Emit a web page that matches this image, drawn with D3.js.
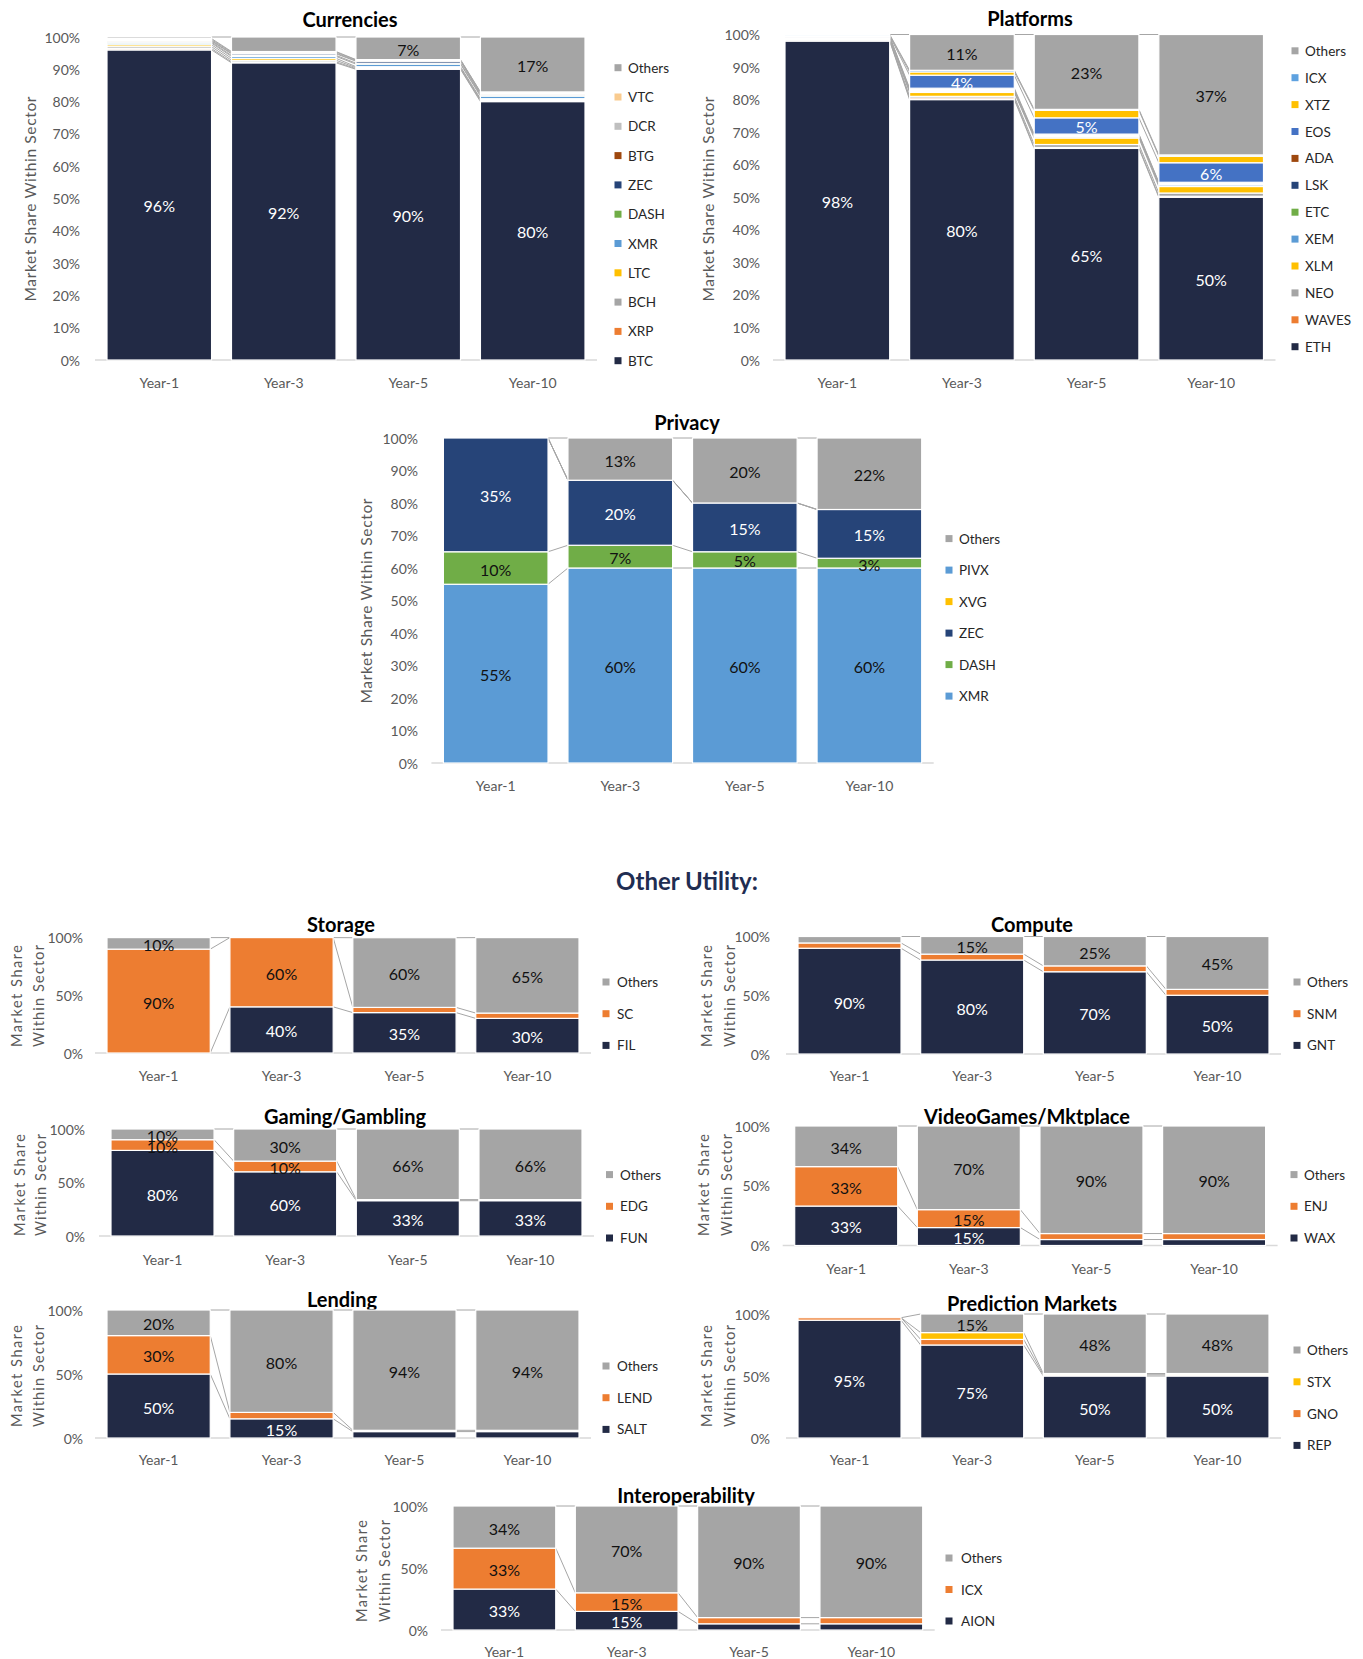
<!DOCTYPE html>
<html><head><meta charset="utf-8">
<script src="https://cdn.jsdelivr.net/npm/d3@7"></script>
<style>body{margin:0;background:#fff;} svg{display:block;font-family:Lato,"Open Sans",sans-serif;}</style>
</head><body>
<svg id="c" width="1363" height="1659"></svg>
<script>
const years = ["Year-1","Year-3","Year-5","Year-10"];

const currenciesSeries = ["BTC","XRP","BCH","LTC","XMR","DASH","ZEC","BTG","DCR","VTC","Others"];
const currenciesValues = [
  [96, 92, 90, 80],
  [0.4, 0.3, 0.2, 0.3],
  [0.6, 0.5, 0.3, 0.3],
  [0.6, 0.6, 0.3, 0.3],
  [0.5, 0.6, 0.8, 0.8],
  [0.3, 0.3, 0.3, 0.3],
  [0.3, 0.5, 0.6, 0.3],
  [0.2, 0.2, 0.2, 0.2],
  [0.3, 0.3, 0.2, 0.4],
  [0.3, 0.2, 0.1, 0.1],
  [0.5, 4.5, 7, 17]
];

const platformsSeries = ["ETH","WAVES","NEO","XLM","XEM","ETC","LSK","ADA","EOS","XTZ","ICX","Others"];
const platformsValues = [
  [98, 80, 65, 50],
  [0.1, 0.5, 0.3, 0.3],
  [0.4, 0.5, 0.9, 1],
  [0.3, 1.2, 2, 2],
  [0.2, 0.3, 0.4, 0.5],
  [0.2, 0.3, 0.3, 0.3],
  [0.1, 0.3, 0.3, 0.3],
  [0.1, 0.4, 0.2, 0.2],
  [0.2, 4, 5, 6],
  [0.2, 1, 2.3, 2],
  [0.2, 0.5, 0.3, 0.4],
  [0, 11, 23, 37]
];

const privacySeries = ["XMR","DASH","ZEC","XVG","PIVX","Others"];
const privacyValues = [
  [55, 60, 60, 60],
  [10, 7, 5, 3],
  [35, 20, 15, 15],
  [0, 0, 0, 0],
  [0, 0, 0, 0],
  [0, 13, 20, 22]
];

const storageSeries = ["FIL","SC","Others"];
const storageValues = [[0, 40, 35, 30], [90, 60, 4.5, 4.6], [10, 0, 60.4, 65.4]];

const computeSeries = ["GNT","SNM","Others"];
const computeValues = [[90, 80, 70, 50], [4.5, 5, 5, 5], [5.5, 15, 25, 45]];

const gamingSeries = ["FUN","EDG","Others"];
const gamingValues = [[80, 60, 33, 33], [10, 10, 1, 1], [10, 30, 66, 66]];

const videoSeries = ["WAX","ENJ","Others"];
const videoValues = [[33, 15, 5, 5], [33, 15, 5, 5], [34, 70, 90, 90]];

const lendingSeries = ["SALT","LEND","Others"];
const lendingValues = [[50, 15, 5, 5], [30, 5, 1, 1], [20, 80, 94, 94]];

const predictionSeries = ["REP","GNO","STX","Others"];
const predictionValues = [[95, 75, 50, 50], [2, 4.5, 1, 1], [0, 5.5, 1, 1], [0, 15, 48, 48]];

const interopSeries = ["AION","ICX","Others"];
const interopValues = [[33, 15, 5, 5], [33, 15, 5, 5], [34, 70, 90, 90]];

const bigTicks = [0,10,20,30,40,50,60,70,80,90,100];
const smallTicks = [0,50,100];

// colours
const NAVY = "#222a45", ORANGE = "#ed7d31", GRAY = "#a5a5a5", YELLOW = "#ffc000",
      LBLUE = "#5b9bd5", GREEN = "#70ad47", DBLUE = "#264478", BLUE = "#4472c4", BROWN = "#9e480e";
const currenciesColors = [NAVY, ORANGE, GRAY, YELLOW, LBLUE, GREEN, DBLUE, BROWN, "#bfbfbf", "#f9cb8f", GRAY];
const platformsColors = [NAVY, ORANGE, GRAY, YELLOW, LBLUE, GREEN, DBLUE, BROWN, BLUE, YELLOW, "#5ea2e0", GRAY];
const privacyColors = [LBLUE, GREEN, DBLUE, YELLOW, LBLUE, GRAY];
const threeColors = [NAVY, ORANGE, GRAY];
const predictionColors = [NAVY, ORANGE, YELLOW, GRAY];

const panels = [
  {title:"Currencies", series:currenciesSeries, values:currenciesValues, colors:currenciesColors, big:true,
   bx:[107,585], y:[37,360], tickX:80, tp:[350,19], yt:[30], ytc:199, xly:382,
   leg:{mx:618, tx:628, y0:67.7, dy:29.3}, minLabel:5},
  {title:"Platforms", series:platformsSeries, values:platformsValues, colors:platformsColors, big:true,
   bx:[785,1263.5], y:[34.5,360], tickX:760, tp:[1030,18], yt:[708], ytc:199, xly:382,
   leg:{mx:1295, tx:1305, y0:50.8, dy:26.9}, minLabel:4},
  {title:"Privacy", series:privacySeries, values:privacyValues, colors:privacyColors, big:true,
   bx:[443.4,921.7], y:[438,763], tickX:418, tp:[687,422], yt:[366], ytc:601, xly:785,
   leg:{mx:949, tx:959, y0:538.6, dy:31.5}, minLabel:3},
  {title:"Storage", series:storageSeries, values:storageValues, colors:threeColors,
   bx:[107,579], y:[937.6,1053], tickX:83, tp:[341,924], yt:[16,38.6], ytc:996, xly:1075,
   leg:{mx:606, tx:617, y0:982, dy:31.7}, minLabel:10},
  {title:"Compute", series:computeSeries, values:computeValues, colors:threeColors,
   bx:[798,1269], y:[936.5,1054], tickX:770, tp:[1032,924], yt:[706,729], ytc:996, xly:1075,
   leg:{mx:1297, tx:1307, y0:982, dy:31.7}, minLabel:10},
  {title:"Gaming/Gambling", series:gamingSeries, values:gamingValues, colors:threeColors,
   bx:[111,582], y:[1129,1236], tickX:85, tp:[345,1116], yt:[19,40], ytc:1185, xly:1259,
   leg:{mx:609.5, tx:620, y0:1174.6, dy:31.7}, minLabel:10},
  {title:"VideoGames/Mktplace", series:videoSeries, values:videoValues, colors:threeColors,
   bx:[794.7,1265.6], y:[1126,1245.5], tickX:770, tp:[1027,1116], yt:[703,726], ytc:1185, xly:1268,
   leg:{mx:1294, tx:1304, y0:1174.6, dy:31.7}, minLabel:10},
  {title:"Lending", series:lendingSeries, values:lendingValues, colors:threeColors,
   bx:[107,579], y:[1310,1438], tickX:83, tp:[342,1299], yt:[16,38.6], ytc:1376, xly:1459,
   leg:{mx:606, tx:617, y0:1366, dy:31.7}, minLabel:10},
  {title:"Prediction Markets", series:predictionSeries, values:predictionValues, colors:predictionColors,
   bx:[798,1269], y:[1314,1438], tickX:770, tp:[1032,1303], yt:[706,729], ytc:1376, xly:1459,
   leg:{mx:1297, tx:1307, y0:1350, dy:31.8}, minLabel:10},
  {title:"Interoperability", series:interopSeries, values:interopValues, colors:threeColors,
   bx:[453,922.7], y:[1506,1630], tickX:428, tp:[686,1495], yt:[361,384], ytc:1571, xly:1651,
   leg:{mx:949, tx:961, y0:1558, dy:31.5}, minLabel:10}
];

const svg = d3.select("#c");

function lum(c){
  const r = d3.rgb(c);
  const f = v => { v/=255; return v<=0.03928 ? v/12.92 : Math.pow((v+0.055)/1.055,2.4); };
  return 0.2126*f(r.r)+0.7152*f(r.g)+0.0722*f(r.b);
}

svg.append("text").attr("x",687).attr("y",880).attr("text-anchor","middle")
  .attr("dominant-baseline","central").attr("font-size",24).attr("font-weight",700)
  .attr("fill","#1f2d52").text("Other Utility:");

panels.forEach(p => {
  const g = svg.append("g");
  const rows = years.map((yr,i) => { const r = {year:yr}; p.series.forEach((s,k)=> r[s] = p.values[k][i]); return r; });
  const stack = d3.stack().keys(p.series)(rows);
  const x = d3.scaleBand().domain(years).range(p.bx).paddingInner(0.16).paddingOuter(0);
  const y = d3.scaleLinear().domain([0,100]).range([p.y[1], p.y[0]]);
  const bw = x.bandwidth();

  // title
  g.append("text").attr("x",p.tp[0]).attr("y",p.tp[1]).attr("text-anchor","middle")
    .attr("dominant-baseline","central").attr("font-size",p.big?20:20).attr("font-weight",700)
    .attr("fill","#000").text(p.title);

  // y axis ticks
  const ticks = p.big ? bigTicks : smallTicks;
  g.selectAll(".tk").data(ticks).enter().append("text")
    .attr("x",p.tickX).attr("y",d=>y(d)).attr("text-anchor","end").attr("dominant-baseline","central")
    .attr("font-size",14).attr("fill","#595959").text(d=>d+"%");

  // y title
  if (p.yt.length === 1) {
    g.append("text").attr("transform",`translate(${p.yt[0]},${p.ytc}) rotate(-90)`)
      .attr("text-anchor","middle").attr("dominant-baseline","central")
      .attr("font-size",15.5).attr("fill","#595959")
      .attr("textLength",205).attr("lengthAdjust","spacing")
      .text("Market Share Within Sector");
  } else {
    ["Market Share","Within Sector"].forEach((t,i) => {
      g.append("text").attr("transform",`translate(${p.yt[i]},${p.ytc}) rotate(-90)`)
        .attr("text-anchor","middle").attr("dominant-baseline","central")
        .attr("font-size",14.5).attr("fill","#595959")
        .attr("textLength",102).attr("lengthAdjust","spacing").text(t);
    });
  }

  // baseline
  g.append("line").attr("x1",p.bx[0]-12).attr("x2",p.bx[1]+12)
    .attr("y1",y(0)).attr("y2",y(0)).attr("stroke","#d9d9d9").attr("stroke-width",1.5);

  // x labels
  g.selectAll(".xl").data(years).enter().append("text")
    .attr("x",d=>x(d)+bw/2).attr("y",p.xly).attr("text-anchor","middle").attr("dominant-baseline","central")
    .attr("font-size",14).attr("fill","#595959").text(d=>d);

  // series lines
  stack.forEach(layer => {
    for (let i=0;i<years.length-1;i++){
      g.append("line")
        .attr("x1",x(years[i])+bw).attr("y1",y(layer[i][1]))
        .attr("x2",x(years[i+1])).attr("y2",y(layer[i+1][1]))
        .attr("stroke","#a6a6a6").attr("stroke-width",1);
    }
  });

  // bars
  stack.forEach((layer,k) => {
    g.selectAll(null).data(layer.filter(d=>d[1]-d[0]>0)).enter().append("rect")
      .attr("x",d=>x(d.data.year)).attr("width",bw)
      .attr("y",d=>y(d[1])).attr("height",d=>y(d[0])-y(d[1]))
      .attr("fill",p.colors[k]).attr("stroke","#fff").attr("stroke-width",1.2);
  });

  // labels
  stack.forEach((layer,k) => {
    const col = lum(p.colors[k]) < 0.25 ? "#fff" : "#111";
    g.selectAll(null).data(layer.filter(d=>d[1]-d[0]>=p.minLabel)).enter().append("text")
      .attr("x",d=>x(d.data.year)+bw/2).attr("y",d=>y((d[0]+d[1])/2)+1)
      .attr("text-anchor","middle").attr("dominant-baseline","central")
      .attr("font-size",16).attr("fill",col)
      .text(d=>Math.round(d[1]-d[0])+"%");
  });

  // legend (reverse order)
  const legItems = p.series.map((s,k)=>({s, c:p.colors[k]})).reverse();
  legItems.forEach((it,i) => {
    const ly = p.leg.y0 + i*p.leg.dy;
    g.append("rect").attr("x",p.leg.mx-3.5).attr("y",ly-3.5).attr("width",7).attr("height",7).attr("fill",it.c);
    g.append("text").attr("x",p.leg.tx).attr("y",ly).attr("dominant-baseline","central")
      .attr("font-size",13.5).attr("fill","#262626").text(it.s);
  });
});
</script>
</body></html>
